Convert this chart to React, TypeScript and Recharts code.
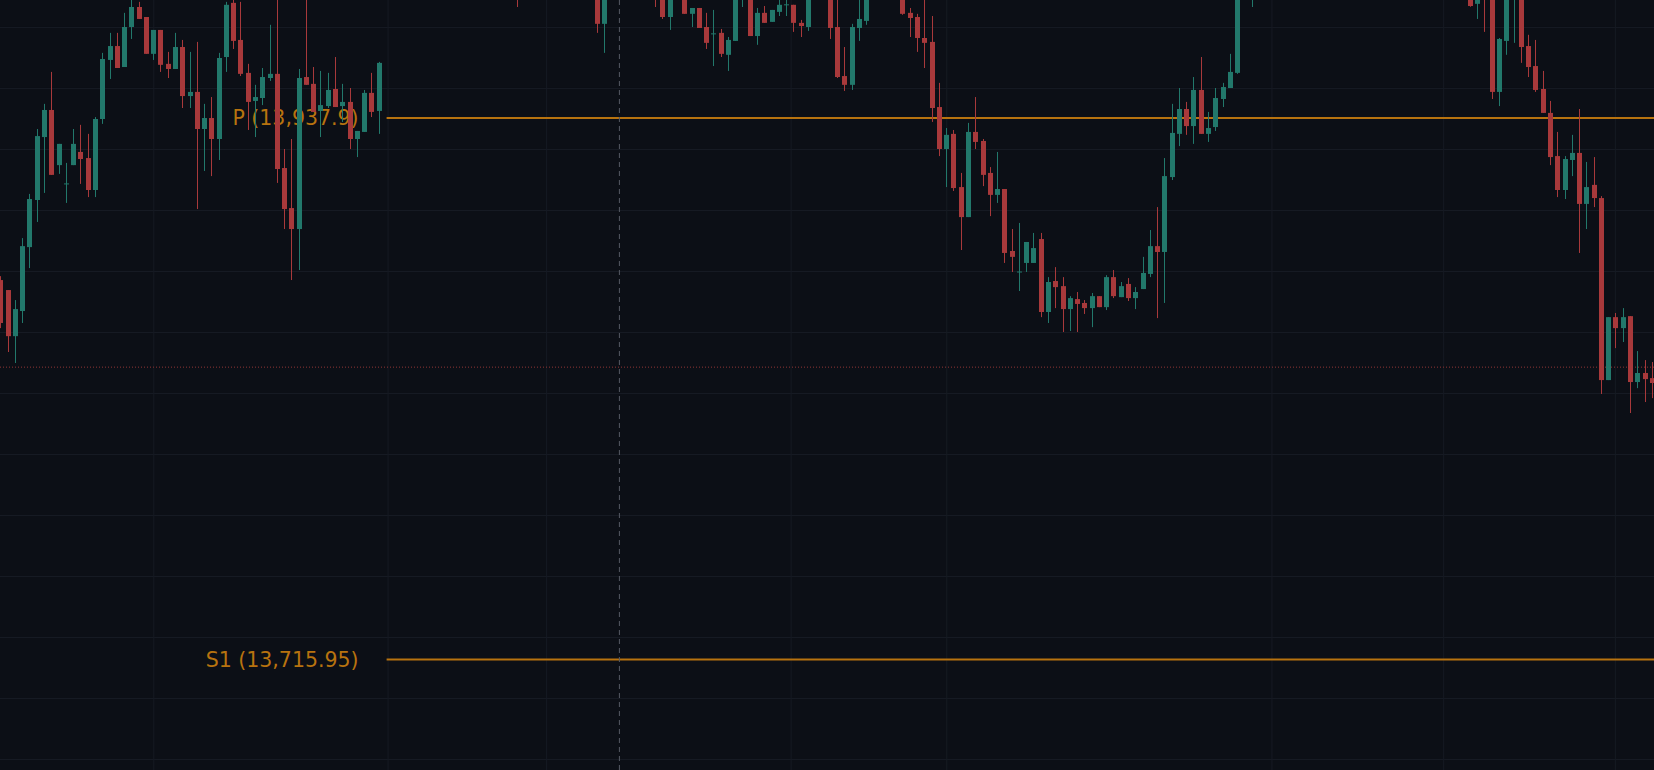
import { ComposedChart, Bar, XAxis, YAxis, ReferenceLine } from "recharts";

const _ = null;

// candle index 0..227, null where the bar sits above the visible price window
const opens = [
  13871.5, 13867.4, 13848.5, 13858.8, 13885.0, 13904.3, 13930.1, 13941.2, 13918.6, 13910.7,
  13918.6, 13924.0, 13921.5, 13908.4, 13937.5, 13961.7, 13967.4, 13958.8, 13975.2, 13983.4,
  13979.3, 13964.2, 13974.0, 13960.1, 13958.0, 13967.0, 13946.9, 13948.6, 13933.4, 13937.9,
  13929.3, 13962.9, 13985.1, 13969.9, 13956.4, 13944.9, 13946.1, 13954.3, 13956.0, 13917.4,
  13901.0, 13892.4, 13954.7, 13951.9, 13940.8, 13942.8, 13949.8, 13942.8, 13944.5, 13929.3,
  13932.2, 13948.2, 13940.8, _, _, _, _, _, _, _,
  _, _, _, _, _, _, _, _, _, _,
  _, 13998.0, _, _, _, _, _, _, _, _,
  _, _, 14000.0, 13976.5, _, _, _, _, _, _,
  13999.0, 13997.0, 13979.3, _, 13996.0, 13980.6, 13983.0, 13975.2, 13972.2, 13972.8,
  13963.8, 13969.5, 13990.0, 13999.0, 13971.5, 13981.0, 13977.3, 13981.4, 13984.1, 13984.3,
  13976.9, 13975.2, _, _, 14000.0, 13975.2, 13955.1, 13951.5, 13974.8, 13977.7,
  _, _, _, _, 13998.0, 13981.0, 13979.3, 13970.7, 13969.1, 13942.4,
  13925.2, 13931.4, 13909.6, 13897.3, 13932.2, 13928.5, 13915.4, 13906.4, 13908.8, 13883.4,
  13874.6, 13878.5, 13878.5, 13888.3, 13858.4, 13871.1, 13869.0, 13859.6, 13863.7, 13862.1,
  13860.0, 13864.9, 13860.4, 13872.7, 13864.5, 13869.9, 13864.1, 13867.8, 13874.0, 13885.4,
  13883.0, 13913.7, 13931.4, 13941.6, 13934.6, 13949.4, 13931.4, 13934.2, 13945.7, 13950.2,
  13956.4, _, 13990.0, _, _, _, _, _, _, _,
  _, _, _, _, _, _, _, _, _, _,
  _, _, _, _, _, _, _, _, _, _,
  _, _, 13998.0, 13984.7, 13997.0, 13999.0, 13948.6, 13969.5, 13990.0, 13999.0,
  13967.4, 13959.2, 13949.8, 13940.0, 13922.3, 13908.4, 13920.7, 13923.6, 13902.7, 13910.5,
  13905.1, 13830.5, 13856.3, 13851.8, 13856.7, 13829.7, 13833.4, 13831.3,
];

const highs = [
  13873.1, 13867.4, 13863.3, 13888.7, 13906.8, 13933.4, 13943.7, 13956.8, 13927.3, 13919.5,
  13933.4, 13935.1, 13931.4, 13938.3, 13964.6, 13972.8, 13972.8, 13981.0, 13988.4, 13985.5,
  13979.3, 13974.0, 13974.0, 13965.0, 13972.8, 13969.9, 13965.0, 13969.1, 13943.7, 13946.5,
  13964.6, 13985.5, 13990.4, 13985.5, 13960.1, 13951.5, 13958.4, 13976.1, 13988.4, 13925.2,
  13929.3, 13958.0, 13990.4, 13958.8, 13957.2, 13956.4, 13962.9, 13951.9, 13950.2, 13932.6,
  13949.4, 13956.4, 13960.9, _, _, _, _, _, _, _,
  _, _, _, _, _, _, _, _, _, _,
  _, 14003.0, _, _, _, _, _, _, _, _,
  _, _, 14004.0, 13998.0, _, _, _, _, _, _,
  14003.0, 14001.0, 13997.0, _, 13999.0, 13983.0, 13983.0, 13981.0, 13982.2, 13974.4,
  13971.1, 13999.0, 14002.0, 14003.0, 13983.0, 13983.8, 13982.2, 13990.0, 13991.0, 13984.3,
  13978.1, 13997.0, _, _, 14004.0, 13992.0, 13967.0, 13976.5, 13990.0, 13999.0,
  _, _, _, _, 14002.0, 13983.0, 13980.6, 13990.0, 13979.7, 13952.3,
  13933.8, 13933.0, 13915.4, 13935.9, 13946.5, 13929.3, 13917.8, 13924.0, 13908.8, 13892.4,
  13894.9, 13887.1, 13890.8, 13890.8, 13872.7, 13876.8, 13872.7, 13864.9, 13866.6, 13863.3,
  13866.2, 13864.9, 13873.5, 13875.6, 13870.7, 13872.3, 13868.6, 13881.0, 13892.0, 13901.4,
  13921.5, 13943.7, 13950.2, 13944.5, 13954.7, 13962.9, 13940.4, 13950.2, 13952.3, 13964.2,
  13999.0, _, 14002.0, _, _, _, _, _, _, _,
  _, _, _, _, _, _, _, _, _, _,
  _, _, _, _, _, _, _, _, _, _,
  _, _, 14002.0, 14000.0, 14001.0, 14003.0, 13970.7, 13999.0, 14002.0, 14003.0,
  13972.0, 13969.9, 13957.2, 13944.9, 13932.2, 13922.3, 13931.0, 13941.6, 13919.9, 13921.9,
  13905.9, 13856.3, 13858.0, 13860.0, 13856.7, 13842.4, 13838.7, 13837.9,
];

const lows = [
  13851.8, 13842.0, 13837.5, 13853.9, 13876.4, 13895.3, 13907.2, 13914.6, 13915.0, 13903.1,
  13918.6, 13910.9, 13905.5, 13905.5, 13935.5, 13953.9, 13958.4, 13958.8, 13970.3, 13978.5,
  13964.2, 13961.7, 13956.8, 13954.3, 13958.0, 13942.0, 13942.0, 13900.6, 13916.2, 13914.1,
  13920.7, 13956.8, 13966.2, 13955.1, 13933.0, 13930.1, 13943.2, 13953.1, 13911.3, 13892.4,
  13871.5, 13875.6, 13951.5, 13940.4, 13930.1, 13942.0, 13942.4, 13936.3, 13925.2, 13921.9,
  13932.2, 13938.3, 13931.4, _, _, _, _, _, _, _,
  _, _, _, _, _, _, _, _, _, _,
  _, 13983.4, _, _, _, _, _, _, _, _,
  _, _, 13972.8, 13964.6, _, _, _, _, _, _,
  13983.4, 13978.5, 13974.0, _, 13980.6, 13975.2, 13974.8, 13966.2, 13959.2, 13962.9,
  13957.2, 13969.5, 13983.4, 13971.5, 13967.9, 13976.9, 13977.3, 13979.7, 13979.7, 13973.2,
  13971.1, 13973.6, _, _, 13970.3, 13954.3, 13949.0, 13949.4, 13969.5, 13976.1,
  _, _, _, _, 13980.2, 13971.1, 13965.0, 13958.4, 13936.3, 13922.3,
  13909.6, 13908.0, 13883.8, 13897.3, 13925.2, 13910.0, 13897.7, 13903.1, 13878.5, 13874.8,
  13867.0, 13874.8, 13878.5, 13856.3, 13853.9, 13860.0, 13850.2, 13850.6, 13850.2, 13857.6,
  13852.2, 13860.4, 13859.2, 13864.1, 13864.5, 13862.9, 13859.6, 13867.8, 13872.7, 13855.9,
  13862.1, 13912.5, 13926.4, 13931.0, 13927.3, 13931.4, 13928.1, 13932.6, 13942.4, 13950.2,
  13956.0, _, 13983.4, _, _, _, _, _, _, _,
  _, _, _, _, _, _, _, _, _, _,
  _, _, _, _, _, _, _, _, _, _,
  _, _, 13983.5, 13978.5, 13973.2, 13945.7, 13942.8, 13963.8, 13968.7, 13960.5,
  13954.7, 13948.6, 13940.0, 13918.6, 13905.5, 13904.7, 13914.1, 13882.6, 13892.4, 13901.4,
  13824.8, 13830.5, 13843.6, 13846.1, 13817.0, 13827.2, 13821.5, 13823.1,
];

const closes = [
  13853.9, 13848.5, 13859.6, 13885.4, 13904.7, 13930.5, 13941.2, 13914.6, 13927.3, 13911.1,
  13927.3, 13921.1, 13908.4, 13937.5, 13962.1, 13967.4, 13958.4, 13975.2, 13983.4, 13978.5,
  13964.2, 13974.0, 13959.7, 13958.0, 13967.0, 13946.9, 13948.6, 13933.4, 13937.9, 13929.3,
  13962.5, 13984.3, 13969.5, 13956.0, 13944.5, 13946.5, 13954.7, 13956.0, 13917.0, 13900.6,
  13892.4, 13954.3, 13951.5, 13940.4, 13943.2, 13949.4, 13942.4, 13944.5, 13929.3, 13932.6,
  13948.2, 13940.4, 13960.5, _, _, _, _, _, _, _,
  _, _, _, _, _, _, _, _, _, _,
  _, 13990.0, _, _, _, _, _, _, _, _,
  _, _, 13976.5, 13995.0, _, _, _, _, _, _,
  13990.0, 13979.3, 13994.0, _, 13980.6, 13983.0, 13974.8, 13968.7, 13972.6, 13964.2,
  13969.9, 13995.0, 13998.0, 13971.5, 13981.0, 13976.9, 13982.2, 13984.3, 13984.5, 13976.9,
  13975.6, 13993.0, _, _, 13974.8, 13954.7, 13951.5, 13975.2, 13978.5, 13995.0,
  _, _, _, _, 13980.6, 13978.9, 13970.7, 13968.7, 13942.0, 13925.2,
  13931.0, 13909.2, 13897.3, 13932.2, 13928.1, 13914.6, 13906.4, 13908.8, 13882.6, 13881.0,
  13875.0, 13887.1, 13884.6, 13858.4, 13870.7, 13868.6, 13859.6, 13864.1, 13861.7, 13860.0,
  13864.9, 13860.4, 13872.7, 13864.9, 13869.0, 13864.1, 13866.6, 13874.4, 13885.4, 13883.0,
  13914.1, 13931.8, 13941.6, 13934.6, 13949.4, 13931.4, 13933.8, 13946.1, 13950.6, 13956.8,
  13995.0, _, 13998.0, _, _, _, _, _, _, _,
  _, _, _, _, _, _, _, _, _, _,
  _, _, _, _, _, _, _, _, _, _,
  _, _, 13983.8, 13996.0, 13990.0, 13948.6, 13970.3, 13995.0, 13998.0, 13967.0,
  13958.8, 13949.4, 13940.0, 13921.9, 13908.4, 13921.1, 13923.6, 13902.7, 13909.6, 13905.1,
  13830.5, 13856.3, 13851.8, 13856.3, 13829.7, 13833.4, 13830.9, 13829.3,
];

const pivotP = 13937.9;
const pivotS1 = 13715.95;
const pivotStart = 53; // first bar of the session
const lastPrice = 13835.8;
const sessionMarker = 85;
const priceGrid = [13975, 13950, 13925, 13900, 13875, 13850, 13825, 13800, 13775, 13750, 13725, 13700, 13675];
const timeGrid = [21, 53.2, 75, 108.6, 130, 174.7, 198.3, 221.9];

const xDomain: [number, number] = [-0.141, 227.213];
const yDomain: [number, number] = [13670.7, 13986.27];

const BG = "#0c0f16";
const GRID = "#161a23";
const UP = "#22786b";
const DOWN = "#a8393b";
const PIVOT = "#b8730f";

const data = opens.map((o, i) => ({
  i,
  o,
  h: highs[i],
  l: lows[i],
  c: closes[i],
  range: o == null ? null : [lows[i], highs[i]],
}));

function Candle(props: any) {
  const { x, y, width, height, payload } = props;
  if (!payload || payload.o == null) return null;
  const { o, h, l, c } = payload;
  const top = Math.min(y, y + height);
  const span = Math.abs(height);
  const k = span / (h - l);
  const py = (v: number) => top + (h - v) * k;
  const color = c >= o ? UP : DOWN;
  const bw = Math.floor(width);
  const bx = Math.round(x);
  const wx = bx + bw / 2;
  const bodyTop = py(Math.max(o, c));
  const bodyH = Math.max(1, py(Math.min(o, c)) - bodyTop);
  return (
    <g>
      <line x1={wx} x2={wx} y1={top} y2={top + span} stroke={color} strokeWidth={1} />
      <rect x={bx} y={bodyTop} width={bw} height={bodyH} fill={color} />
    </g>
  );
}

const labelStyle = {
  position: "left" as const,
  offset: 28,
  fill: PIVOT,
  fontSize: 20.5,
  fontFamily: "DejaVu Sans",
};

export default function App() {
  return (
    <div style={{ position: "fixed", left: 0, top: 0, width: 1654, height: 770, background: BG }}>
      <ComposedChart width={1654} height={770} data={data} margin={{ top: 0, right: 0, bottom: 0, left: 0 }}>
        <XAxis dataKey="i" type="number" domain={xDomain} allowDataOverflow hide />
        <YAxis type="number" domain={yDomain} allowDataOverflow hide />

        {priceGrid.map((p) => (
          <ReferenceLine key={"h" + p} y={p} stroke={GRID} strokeWidth={1} zIndex={-100} />
        ))}
        {timeGrid.map((t) => (
          <ReferenceLine key={"v" + t} x={t} stroke={GRID} strokeWidth={1} zIndex={-100} />
        ))}

        <ReferenceLine
          segment={[{ x: pivotStart, y: pivotP }, { x: xDomain[1], y: pivotP }]}
          stroke={PIVOT}
          strokeWidth={2}
          label={{ value: "P (13,937.9)", ...labelStyle }}
        />
        <ReferenceLine
          segment={[{ x: pivotStart, y: pivotS1 }, { x: xDomain[1], y: pivotS1 }]}
          stroke={PIVOT}
          strokeWidth={2}
          label={{ value: "S1 (13,715.95)", ...labelStyle }}
        />
        <ReferenceLine y={lastPrice} stroke="#8f3535" strokeWidth={1} strokeDasharray="1 2" />
        <ReferenceLine x={sessionMarker} stroke="#565a64" strokeWidth={1} strokeDasharray="5 4" />

        <Bar dataKey="range" barSize={5} shape={<Candle />} isAnimationActive={false} zIndex={3000} />
      </ComposedChart>
    </div>
  );
}
